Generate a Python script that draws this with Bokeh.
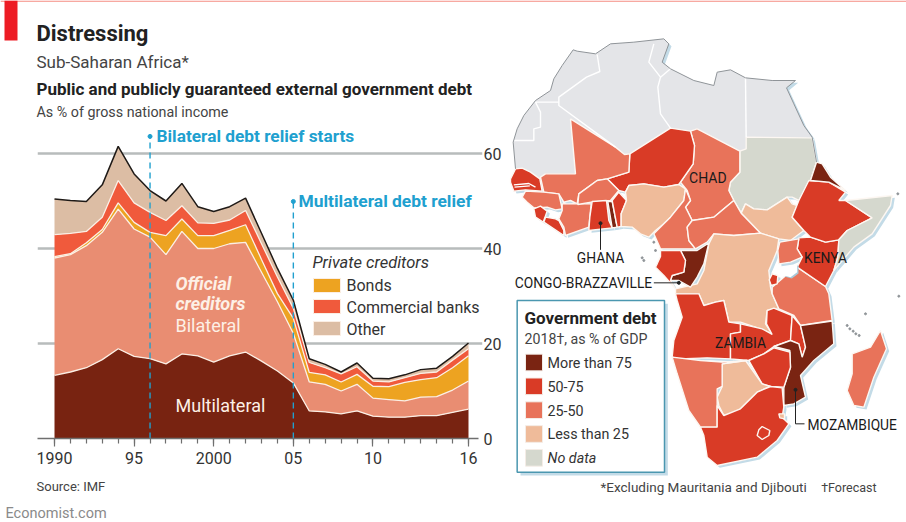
from bokeh.plotting import figure
from bokeh.embed import file_html
from bokeh.resources import INLINE
from bokeh.layouts import column
from bokeh.models import Range1d, Label, FixedTicker, ColumnDataSource
import numpy as np

FONT = "Roboto"
years = list(range(1990, 2017))
multilateral = [13.3,14.0,14.9,16.6,18.9,17.3,16.8,15.7,17.8,17.4,16.1,17.4,18.2,16.3,14.2,11.7,5.8,5.6,5.2,5.8,4.7,4.5,4.5,4.8,4.8,5.5,6.2]
bilateral = [24.7,24.7,25.7,26.8,29.4,26.8,25.6,23.0,25.8,22.6,23.9,23.6,23.1,18.7,14.6,10.4,6.1,5.8,4.8,5.6,3.8,3.7,3.4,3.9,4.0,4.7,5.9]
bonds = [0.3,0.2,0.6,0.6,1.3,1.4,1.0,4.0,2.6,2.7,2.7,2.8,3.7,2.7,1.7,3.2,2.0,2.0,1.9,2.1,2.5,2.7,3.9,3.7,4.0,4.7,5.3]
banks = [4.6,4.3,2.4,2.6,4.7,4.1,4.2,3.2,2.8,2.7,2.6,2.2,3.0,3.3,3.5,2.1,2.1,1.5,1.7,1.6,1.1,1.0,1.0,1.3,1.2,1.6,1.5]
other = [7.5,6.9,6.3,6.8,7.2,6.1,4.6,4.1,4.7,3.4,2.5,2.8,2.6,2.2,1.8,1.7,0.8,0.7,0.4,0.8,0.6,0.7,0.6,0.8,0.8,0.8,1.2]
series_names = ["multilateral","bilateral","bonds","banks","other"]
series_colors = ["#782311","#e98d72","#eda321","#f05a3c","#dcbda4"]
tick_labels = {1990:"1990",1995:"95",2000:"2000",2005:"05",2010:"10",2016:"16"}
relief_years = [1996, 2005]
relief_tops = [63.6, 49.9]

DARK="#7a2412"; RED="#d93b26"; MID="#e8735a"; PEACH="#efbb9a"; NODATA="#d5d8ce"; NORTH="#e4e5e8"

# country outlines, traced in map units
north = [(45,505),(38,425),(50,385),(70,345),(105,300),(150,270),(160,235),(185,195),(218,148),(230,152),(285,160),(330,130),(400,125),(490,115),(505,130),(485,185),(510,205),(580,240),(640,255),(650,215),(690,208),(735,232),(815,240),(885,240),(858,262),(880,310),(910,375),(935,410),(737,410),(737,445),(718,452),(590,385),(570,392),(510,383),(388,460),(372,462),(345,440),(210,355),(225,520),(135,520),(118,535),(90,515),(65,503)]
countries = [
 (NODATA,[(737,410),(935,412),(948,485),(930,540),(895,600),(875,590),(860,590),(800,628),(760,625),(735,610),(722,638),(700,600),(685,570),(690,545),(718,515),(718,452),(737,445)]),
 (PEACH,[(722,638),(735,610),(760,625),(800,628),(860,590),(875,610),(890,615),(875,650),(910,690),(870,720),(835,715),(780,698)]),
 (MID,[(590,385),(718,452),(718,515),(690,545),(685,570),(700,600),(670,625),(640,650),(575,660),(555,620),(570,600),(560,570),(540,545),(578,490),(582,435),(570,392)]),
 (RED,[(510,383),(570,392),(582,435),(578,490),(535,552),(490,560),(430,550),(385,555),(375,575),(355,570),(320,535),(385,515),(388,460)]),
 (MID,[(210,355),(345,440),(372,462),(388,460),(385,515),(320,535),(290,540),(235,580),(230,610),(210,600),(190,605),(175,580),(130,575),(120,530),(135,520),(225,520)]),
 (RED,[(30,535),(45,505),(65,503),(90,515),(118,535),(125,572),(75,568),(40,572),(30,545)]),
 (MID,[(65,590),(75,572),(130,575),(175,580),(185,625),(165,628),(140,620),(100,622),(80,605)]),
 (RED,[(100,625),(120,617),(140,632),(128,665),(105,650)]),
 (RED,[(135,650),(165,655),(175,660),(190,690),(190,705),(160,685),(130,665)]),
 (MID,[(185,610),(230,610),(272,610),(265,680),(195,705),(190,680),(175,655),(185,630)]),
 (MID,[(235,580),(290,540),(320,535),(355,570),(330,600),(272,605),(232,612)]),
 (RED,[(275,603),(318,600),(325,660),(335,682),(265,690),(268,650)]),
 (DARK,[(322,603),(335,603),(350,680),(335,682)]),
 (RED,[(335,600),(355,575),(378,600),(362,640),(362,678),(350,680)]),
 (PEACH,[(385,555),(430,550),(490,560),(535,552),(555,565),(550,600),(510,650),(490,670),(465,690),(445,710),(420,700),(395,680),(362,678),(362,640),(378,600),(375,575)]),
 (MID,[(555,565),(570,600),(555,620),(575,660),(560,680),(565,720),(585,745),(540,745),(480,745),(460,700),(490,670),(510,650),(550,600)]),
 (MID,[(575,660),(640,650),(700,600),(722,638),(780,698),(700,705),(640,700),(620,725),(585,745),(565,720),(560,680)]),
 (PEACH,[(640,700),(700,705),(780,698),(835,715),(830,750),(820,775),(805,810),(810,860),(815,880),(835,925),(800,930),(795,970),(815,1000),(780,985),(720,965),(685,965),(670,900),(645,905),(610,915),(595,880),(525,880),(525,865),(590,850),(610,810),(625,730)]),
 (DARK,[(540,750),(590,750),(625,727),(610,790),(590,830),(570,860),(535,840),(510,840),(515,825),(550,815),(555,780)]),
 (RED,[(480,750),(540,750),(555,780),(550,815),(515,825),(510,840),(525,865),(490,825),(465,800),(470,790),(480,768)]),
 (RED,[(525,880),(595,880),(610,915),(645,905),(670,900),(685,965),(720,970),(720,995),(690,1000),(690,1075),(620,1072),(535,1075),(515,1070),(520,1020),(545,950),(530,900)]),
 (RED,[(690,1000),(720,995),(720,970),(785,985),(815,1002),(798,970),(800,930),(820,923),(875,945),(870,1020),(820,1038),(790,1060),(745,1080),(690,1075)]),
 (MID,[(815,860),(850,830),(890,800),(975,858),(985,880),(995,960),(900,975),(880,945),(835,925),(815,880)]),
 (RED,[(875,945),(900,975),(915,1040),(905,1070),(895,1030),(870,1020)]),
 (DARK,[(900,975),(995,962),(1000,1030),(940,1080),(900,1125),(915,1190),(880,1210),(850,1215),(850,1160),(870,1100),(868,1050),(820,1038),(870,1020),(895,1030),(905,1070),(915,1040)]),
 (RED,[(745,1080),(790,1060),(820,1042),(868,1055),(870,1100),(850,1160),(810,1158),(785,1150)]),
 (PEACH,[(665,1090),(735,1080),(785,1150),(810,1158),(770,1175),(720,1225),(690,1240),(670,1245),(655,1215),(650,1190),(665,1158)]),
 (MID,[(515,1070),(600,1080),(665,1085),(740,1080),(665,1090),(665,1158),(650,1165),(650,1280),(600,1280),(565,1230),(530,1120)]),
 (RED,[(650,1215),(670,1245),(720,1225),(770,1175),(810,1158),(845,1162),(850,1220),(845,1250),(865,1270),(830,1320),(770,1370),(650,1395),(620,1370),(610,1305),(600,1280),(650,1280)]),
 (MID,[(1140,990),(1158,1045),(1120,1130),(1090,1220),(1060,1215),(1040,1170),(1055,1120),(1055,1060),(1110,1040)]),
 (RED,[(895,712),(930,710),(975,725),(1015,718),(1012,770),(1000,810),(975,858),(890,800),(905,770),(890,745)]),
 (MID,[(838,725),(895,715),(890,745),(905,770),(870,785),(835,790),(832,750)]),
 (RED,[(925,540),(985,545),(1035,575),(1015,600),(1035,600),(1115,652),(1040,690),(1015,718),(975,725),(930,710),(910,690),(875,650),(895,600)]),
 (DARK,[(930,540),(948,485),(965,490),(990,530),(1035,570),(985,545)]),
 (NODATA,[(1035,600),(1175,585),(1170,615),(1115,700),(1060,740),(1000,810),(1012,770),(1015,718),(1040,690),(1115,652)]),
 (RED,[(815,820),(832,825),(830,850),(812,855),(806,838)]),
 (RED,[(785,1278),(808,1290),(805,1305),(785,1317),(770,1305),(775,1288)]),
 (PEACH,[(835,1240),(852,1240),(852,1255),(838,1252)]),
]
north_borders = [
 [(290,162),(298,213),(258,230),(175,290),(175,315),(345,440)],
 [(175,305),(105,305),(120,335),(120,380),(100,385),(100,420),(38,420)],
 [(460,130),(445,185),(480,230),(472,260),(480,340),(510,383)],
 [(480,230),(510,205)],
 [(735,232),(737,410)],
]
gambia_lines = [[(40,553),(85,549),(105,560)],[(42,560),(88,556)]]
north_coast = [(45,505),(38,425),(50,385),(70,345),(105,300),(150,270),(160,235),(185,195),(218,148),(230,152),(285,160),(330,130),(400,125),(490,115),(505,130),(485,185),(510,205),(580,240),(640,255),(650,215),(690,208),(735,232),(815,240),(885,240),(858,262),(880,310),(910,375),(935,410),(948,485)]
lake = [(850,825),(865,800),(890,790),(890,815),(870,830)]
islets_x = [1040,1048,1058,1066,1076,1095,1195,1192,460,465,430,425]
islets_y = [975,985,992,1000,1005,940,887,580,725,750,780,772]
legend_rows = [(DARK,"More than 75",False),(RED,"50-75",False),(MID,"25-50",False),(PEACH,"Less than 25",False),(NODATA,"No data",True)]

# ---------- base layer: page furniture and map ----------
m = figure(width=906, height=522, output_backend="svg", toolbar_location=None,
           x_range=Range1d(-1500,1218), y_range=Range1d(1566,0),
           x_axis_location=None, y_axis_location=None, frame_align=False,
           min_border_left=0,min_border_top=0,min_border_right=0,min_border_bottom=0,
           outline_line_color=None, border_fill_color=None, background_fill_color=None)
m.grid.visible=False
m.extra_x_ranges["px"] = Range1d(0,906)
m.extra_y_ranges["py"] = Range1d(522,0)

allp = [north]+[c[1] for c in countries]
m.patches([[a+8 for a,b in q] for q in allp],[[b+7 for a,b in q] for q in allp],fill_color="#c3dbe7",line_color=None)
m.patch([a for a,b in north],[b for a,b in north],fill_color=NORTH,line_color=None)
m.patches([[a for a,b in c[1]] for c in countries],[[b for a,b in c[1]] for c in countries],
          fill_color=[c[0] for c in countries],line_color="#fdf7f2",line_width=1.4)
m.multi_line([[a for a,b in q] for q in north_borders+gambia_lines],[[b for a,b in q] for q in north_borders+gambia_lines],line_color="white",line_width=1.4)
m.line([a for a,b in north_coast],[b for a,b in north_coast],line_color="#8f9498",line_width=1)
m.patch([a+4 for a,b in lake],[b+4 for a,b in lake],fill_color="#a9c9d8",line_color=None)
m.patch([a for a,b in lake],[b for a,b in lake],fill_color="white",line_color=None)
m.scatter(islets_x,islets_y,size=2,color="#8f9498")

def mt(t,x,y,size,color="#222222",style="normal",align="left"):
    m.add_layout(Label(x=x,y=y,text=t,text_font=FONT,text_font_size=f"{size}px",text_color=color,
                       text_font_style=style,text_align=align,text_baseline="middle"))
def lab(t,x,y,size,color="#222222",style="normal",align="left"):
    m.add_layout(Label(x=x,y=y,x_range_name="px",y_range_name="py",text=t,text_font=FONT,text_font_size=f"{size}px",
                       text_color=color,text_font_style=style,text_align=align,text_baseline="middle"))
m.multi_line([[300,300],[460,535],[885,885,912]],[[668,748],[847,847],[1168,1270,1270]],line_color="#222222",line_width=1)
m.scatter([300,535,885],[668,847,1168],size=3,color="#222222")
mt("CHAD",622,533,14,"#1a1a1a",align="center")
mt("GHANA",300,772,13.8,"#1a1a1a",align="center")
mt("KENYA",975,772,13.8,"#1a1a1a",align="center")
mt("CONGO-BRAZZAVILLE",455,848,13.8,"#1a1a1a",align="right")
mt("ZAMBIA",720,1027,13.8,"#1a1a1a",align="center")
mt("MOZAMBIQUE",921,1272,13.8,"#1a1a1a")
m.quad(left=[60],right=[502],top=[910],bottom=[1425],fill_color="#c3dbe7",line_color=None)
m.quad(left=[50],right=[492],top=[900],bottom=[1415],fill_color="white",line_color="#4b97b0",line_width=1.5)
mt("Government debt",72,952,17,"#222222","bold")
mt("2018†, as % of GDP",72,1015,14.2,"#444444")
for i,(c,t,it) in enumerate(legend_rows):
    yc = 1086+i*71.5
    m.quad(left=[75],right=[126],top=[yc-25],bottom=[yc+25],fill_color=c,line_color="#f4ece6",line_width=1)
    mt(t,141,yc+1,14.3,"#333333","italic" if it else "normal")
mt("*Excluding Mauritania and Djibouti",300,1460,13.5,"#444444")
mt("†Forecast",962,1460,12.5,"#444444")

lab("Distressing",36,33,22,"#222222","bold")
lab("Sub-Saharan Africa*",36,61,17,"#444444")
lab("Public and publicly guaranteed external government debt",36,88,17,"#222222","bold")
lab("As % of gross national income",36,111,14.3,"#444444")
lab("Private creditors",312,262,16.5,"#333333","italic")
for t,y in (("Bonds",285),("Commercial banks",307),("Other",329)):
    lab(t,346,y,16,"#333333")
lab("Source: IMF",36,486,13,"#444444")
lab("Economist.com",5,513,14.5,"#8a8a8a")
m.quad(left=[313,313,313],right=[340,340,340],top=[278,299,321],bottom=[292,313,335],
       fill_color=[series_colors[2],series_colors[3],series_colors[4]],line_color="#fbeee4",line_width=1,
       x_range_name="px",y_range_name="py")
m.quad(left=[0,4],right=[906,17],top=[0,0],bottom=[1.2,40],fill_color=["#f58d82","#ed1c24"],line_color=None,
       x_range_name="px",y_range_name="py")

# ---------- chart layer ----------
PX = (468-54)/26
UNIT = 4.75
FL, FR, FT, FB = 37, 482, 125, 438
xmin = 1990+(FL-54)/PX; xmax = 1990+(FR-54)/PX
rbound = 1990+(478-54)/PX
p = figure(width=505, height=522, output_backend="svg", toolbar_location=None,
           x_range=Range1d(xmin,xmax), y_range=Range1d(0,(FB-FT)/UNIT), y_axis_location="right", frame_align=False,
           min_border_left=FL, min_border_top=FT, min_border_right=505-FR, min_border_bottom=522-FB,
           outline_line_color=None, background_fill_color=None, border_fill_color=None,
           margin=(-522,0,0,0))
p.extra_x_ranges["px"] = Range1d(FL,FR)
p.extra_y_ranges["py"] = Range1d(FB,FT)

p.xgrid.visible = False
p.ygrid.ticker = FixedTicker(ticks=[20,40,60])
p.ygrid.bounds = (xmin,rbound)
p.ygrid.grid_line_color = "#b8bcbc"
p.ygrid.grid_line_width = 2.5
p.ygrid.level = "underlay"

xa = p.xaxis[0]
xa.ticker = FixedTicker(ticks=list(tick_labels), minor_ticks=years)
xa.major_label_overrides = tick_labels
xa.bounds = (xmin,rbound)
xa.axis_line_color = "#6f6f6f"; xa.axis_line_width = 1.5
xa.major_tick_line_color = "#6f6f6f"; xa.minor_tick_line_color = "#6f6f6f"
xa.major_tick_line_width = 1.2; xa.minor_tick_line_width = 1.2
xa.major_tick_in = 0; xa.major_tick_out = 8; xa.minor_tick_in = 0; xa.minor_tick_out = 5
xa.major_label_standoff = 5
xa.major_label_text_font = FONT; xa.major_label_text_font_size = "16px"; xa.major_label_text_color = "#333333"

ya = p.yaxis[0]
ya.ticker = FixedTicker(ticks=[0,20,40,60])
ya.axis_line_color = None; ya.major_tick_line_color = None; ya.minor_tick_line_color = None
ya.major_tick_in = 0; ya.major_tick_out = 0
ya.major_label_standoff = 1
ya.major_label_text_font = FONT; ya.major_label_text_font_size = "16px"; ya.major_label_text_color = "#333333"

src = ColumnDataSource(dict(year=years, multilateral=multilateral, bilateral=bilateral, bonds=bonds, banks=banks, other=other))
p.varea_stack(series_names, x="year", color=series_colors, source=src)
cum = np.cumsum([multilateral,bilateral,bonds,banks,other],axis=0)
for i in range(4):
    p.line(years, cum[i], line_color="#fbeee4", line_width=1.3)
p.line(years, cum[4], line_color="#1f1a17", line_width=1.5)

BLUE = "#20a0cf"
p.segment(relief_years,[0,0],relief_years,relief_tops,line_color=BLUE,line_width=1.4,line_dash="6 4")
p.scatter(relief_years,relief_tops,size=4,color=BLUE)

def clab(t,x,y,size,color="#222222",style="normal"):
    p.add_layout(Label(x=x,y=y,x_range_name="px",y_range_name="py",text=t,text_font=FONT,text_font_size=f"{size}px",
                       text_color=color,text_font_style=style,text_align="left",text_baseline="middle"))
clab("Bilateral debt relief starts",156,135,17.3,BLUE,"bold")
clab("Multilateral debt relief",298,200,17.4,BLUE,"bold")
clab("Official",175,283,18,"#fdf0e6","bold italic")
clab("creditors",175,303,18,"#fdf0e6","bold italic")
clab("Bilateral",175,325,18,"#fdf0e6")
clab("Multilateral",175,405,18,"#fdf0e6")

layout = column(m,p,spacing=0)
open("out.html","w").write(file_html(layout,INLINE))
